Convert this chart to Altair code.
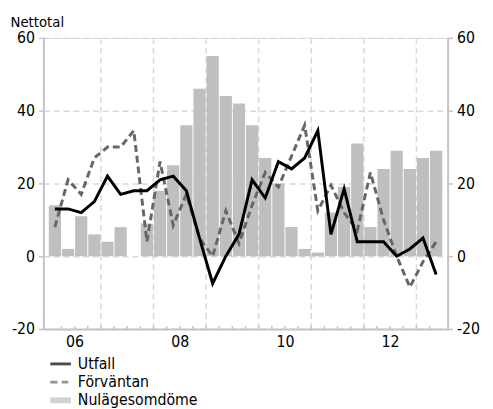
import altair as alt
import pandas as pd

# ---- data (quarters 2006Q1 .. 2013Q2) ----
quarter_index = list(range(30))
nulage = [14, 2, 11, 6, 4, 8, 0, 9, 18, 25, 36, 46, 55, 44, 42, 36, 27, 20, 8, 2,
          1, 12, 19, 31, 8, 24, 29, 24, 27, 29]
utfall = [13, 13, 12, 15, 22, 17, 18, 18, 21, 22, 18, 5, -7.5, 0, 6, 21, 16, 26, 24, 27,
          34.5, 6, 18.5, 4, 4, 4, 0, 2, 5, -5]
forvantan = [8, 21, 17, 27, 30, 30, 34.5, 4, 26, 8.5, 17, 5, 0, 12.5, 3.5, 14, 23, 19, 27.5, 36,
             12.5, 19.5, 12, 7, 23, 10, 0, -8.5, -1.5, 4]
year_labels = ["06", "08", "10", "12"]
year_label_pos = [2, 10, 18, 26]
year_bounds = [4, 8, 12, 16, 20, 24, 28]
quarter_bounds = list(range(1, 30))
series = ["Utfall", "Förväntan", "Nulägesomdöme"]
series_colors = ["#000000", "#666666", "#bfbfbf"]
y_ticks = [-20, 0, 20, 40, 60]

FONT = "DejaVu Sans Condensed"
GRID = "#d9d9d9"
AXIS = "#c4c4c4"

df = pd.DataFrame({
    "q": [i + 0.5 for i in quarter_index],
    "nulage": nulage,
    "utfall": utfall,
    "forvantan": forvantan,
})
df_years = pd.DataFrame({"b": year_bounds})
df_quarters = pd.DataFrame({"b": quarter_bounds})
df_leg = pd.DataFrame({"serie": series})

xs = alt.Scale(domain=[0, 30], nice=False, zero=False)
ys = alt.Scale(domain=[-20, 60], nice=False, zero=False)

label_expr = ""
for p, l in zip(year_label_pos, year_labels):
    label_expr += f"datum.value == {p} ? '{l}' : "
label_expr += "''"

x_axis = alt.Axis(values=year_label_pos, labelExpr=label_expr, orient="bottom", tickSize=0,
                  grid=False, domainColor=AXIS, domainWidth=2, labelFontSize=16, labelFont=FONT,
                  labelColor="black", labelPadding=5, title=None)
left_axis = alt.Axis(values=y_ticks, orient="left", grid=True, gridColor=GRID, gridDash=[6, 4],
                     gridWidth=1.5, domainColor=AXIS, domainWidth=2, tickColor=AXIS, tickWidth=1.5,
                     tickSize=5, labelFontSize=16, labelFont=FONT, labelColor="black",
                     labelPadding=4, labelExpr="replace(datum.label, '\u2212', '-')",
                     title="Nettotal", titleAngle=0, titleAlign="left", titleBaseline="alphabetic",
                     titleX=-34, titleY=-12, titleFont=FONT, titleFontSize=15,
                     titleFontWeight="normal", titleColor="black")
right_axis = alt.Axis(values=y_ticks, orient="right", grid=False,
                      domainColor=AXIS, domainWidth=2, tickColor=AXIS, tickWidth=1.5, tickSize=5,
                      labelFontSize=16, labelFont=FONT, labelColor="black", labelPadding=4,
                      labelExpr="replace(datum.label, '\u2212', '-')", title=None)

vgrid = alt.Chart(df_years).mark_rule(color=GRID, strokeWidth=1.5, strokeDash=[6, 4]).encode(
    x=alt.X("b:Q", scale=xs, axis=None),
    y=alt.Y(datum=-20, scale=ys, axis=None),
    y2=alt.Y2(datum=60),
)

qticks = alt.Chart(df_quarters).mark_rule(color=AXIS, strokeWidth=1.5).encode(
    x=alt.X("b:Q", scale=xs, axis=None),
    y=alt.Y(datum=-20, scale=ys, axis=None),
    y2=alt.Y2(datum=-19.2),
)

bars = alt.Chart(df).mark_bar(size=12.4, color="#bfbfbf").encode(
    x=alt.X("q:Q", scale=xs, axis=x_axis),
    y=alt.Y("nulage:Q", scale=ys, axis=left_axis),
    y2=alt.Y2(datum=0),
)

line_f = alt.Chart(df).mark_line(color="#666666", strokeWidth=3, strokeDash=[7, 4],
                                 strokeJoin="miter").encode(
    x=alt.X("q:Q", scale=xs, axis=None),
    y=alt.Y("forvantan:Q", scale=ys, axis=right_axis),
)

line_u = alt.Chart(df).mark_line(color="#000000", strokeWidth=3, strokeJoin="miter").encode(
    x=alt.X("q:Q", scale=xs, axis=None),
    y=alt.Y("utfall:Q", scale=ys, axis=None),
)

shape_paths = [
    "M-1.5,-0.21H1.5V0.21H-1.5Z",
    "M-1.5,-0.21H-0.45V0.21H-1.5Z M0.17,-0.21H1.12V0.21H0.17Z",
    "M-1.5,-0.43H1.5V0.43H-1.5Z",
]
leg = alt.Legend(title=None, orient="none", legendX=9.5, legendY=323.5, direction="vertical",
                 labelFontSize=16, labelFont=FONT, labelColor="black", symbolSize=196,
                 symbolStrokeWidth=0, labelOffset=9.5, rowPadding=2.5, padding=0)

legend_layer = alt.Chart(df_leg).mark_point(filled=True, size=196, clip=True).encode(
    x=alt.X(datum=-10, scale=xs, axis=None),
    y=alt.Y(datum=20, scale=ys, axis=None),
    color=alt.Color("serie:N", scale=alt.Scale(domain=series, range=series_colors), legend=leg),
    shape=alt.Shape("serie:N", scale=alt.Scale(domain=series, range=shape_paths), legend=leg),
)

chart = alt.layer(vgrid, qticks, bars, line_f, line_u, legend_layer).resolve_axis(
    x="independent", y="independent"
).properties(
    width=411, height=296,
    autosize=alt.AutoSizeParams(type="none"),
    padding={"left": 36, "top": 27, "right": 38, "bottom": 80},
).configure_view(stroke=None).configure(font=FONT)

chart.save("out.html", embed_options={"renderer": "svg", "actions": False})
